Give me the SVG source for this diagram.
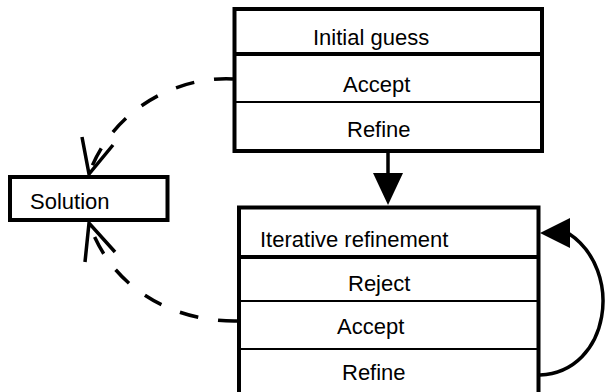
<svg xmlns="http://www.w3.org/2000/svg" width="605" height="392" viewBox="0 0 605 392">
<style>
.box{fill:#fff;stroke:#000;stroke-width:4}
.thick{stroke:#000;stroke-width:4}
.thin{stroke:#000;stroke-width:2}
text{font-family:"Liberation Sans",Arial,sans-serif;font-size:22px;fill:#000}
.dash{fill:none;stroke:#000;stroke-width:3.5;stroke-dasharray:19 20}
.line{fill:none;stroke:#000;stroke-width:3.5}
.open{fill:none;stroke:#000;stroke-width:3.5;stroke-linejoin:miter}
.head{fill:#000;stroke:none}
</style>
<rect width="605" height="392" fill="#fff"/>
<g id="initial-guess">
<rect class="box" x="234.5" y="9" width="307.5" height="142"/>
<line class="thick" x1="234.5" y1="54" x2="542" y2="54"/>
<line class="thin" x1="234.5" y1="102" x2="542" y2="102"/>
<text x="313" y="45">Initial guess</text>
<text x="343" y="92">Accept</text>
<text x="347" y="137">Refine</text>
</g>
<g id="solution">
<rect class="box" x="10" y="177" width="157.5" height="43"/>
<text x="30" y="209">Solution</text>
</g>
<g id="iterative-refinement">
<rect class="box" x="239" y="207.5" width="299.5" height="192"/>
<line class="thick" x1="239" y1="257" x2="538.5" y2="257"/>
<line class="thin" x1="239" y1="301" x2="538.5" y2="301"/>
<line class="thin" x1="239" y1="349" x2="538.5" y2="349"/>
<text x="260" y="247">Iterative refinement</text>
<text x="348" y="291">Reject</text>
<text x="337" y="334">Accept</text>
<text x="342" y="380">Refine</text>
</g>
<g id="connectors">
<line class="line" x1="388" y1="151" x2="388" y2="175"/>
<polygon class="head" points="373,173 403,173 388,205"/>
<path class="dash" d="M233,79 C170,76 110,115 89,174"/>
<path class="open" d="M82,137 L89,174 L113,145"/>
<path class="dash" d="M237,321 C175,322 112,290 89,223"/>
<path class="open" d="M85,262 L89,223 L115,252"/>
<path class="line" d="M540,375 C610,372 625,270 568,233"/>
<polygon class="head" points="540,233 570,218 570,248"/>
</g>
</svg>
